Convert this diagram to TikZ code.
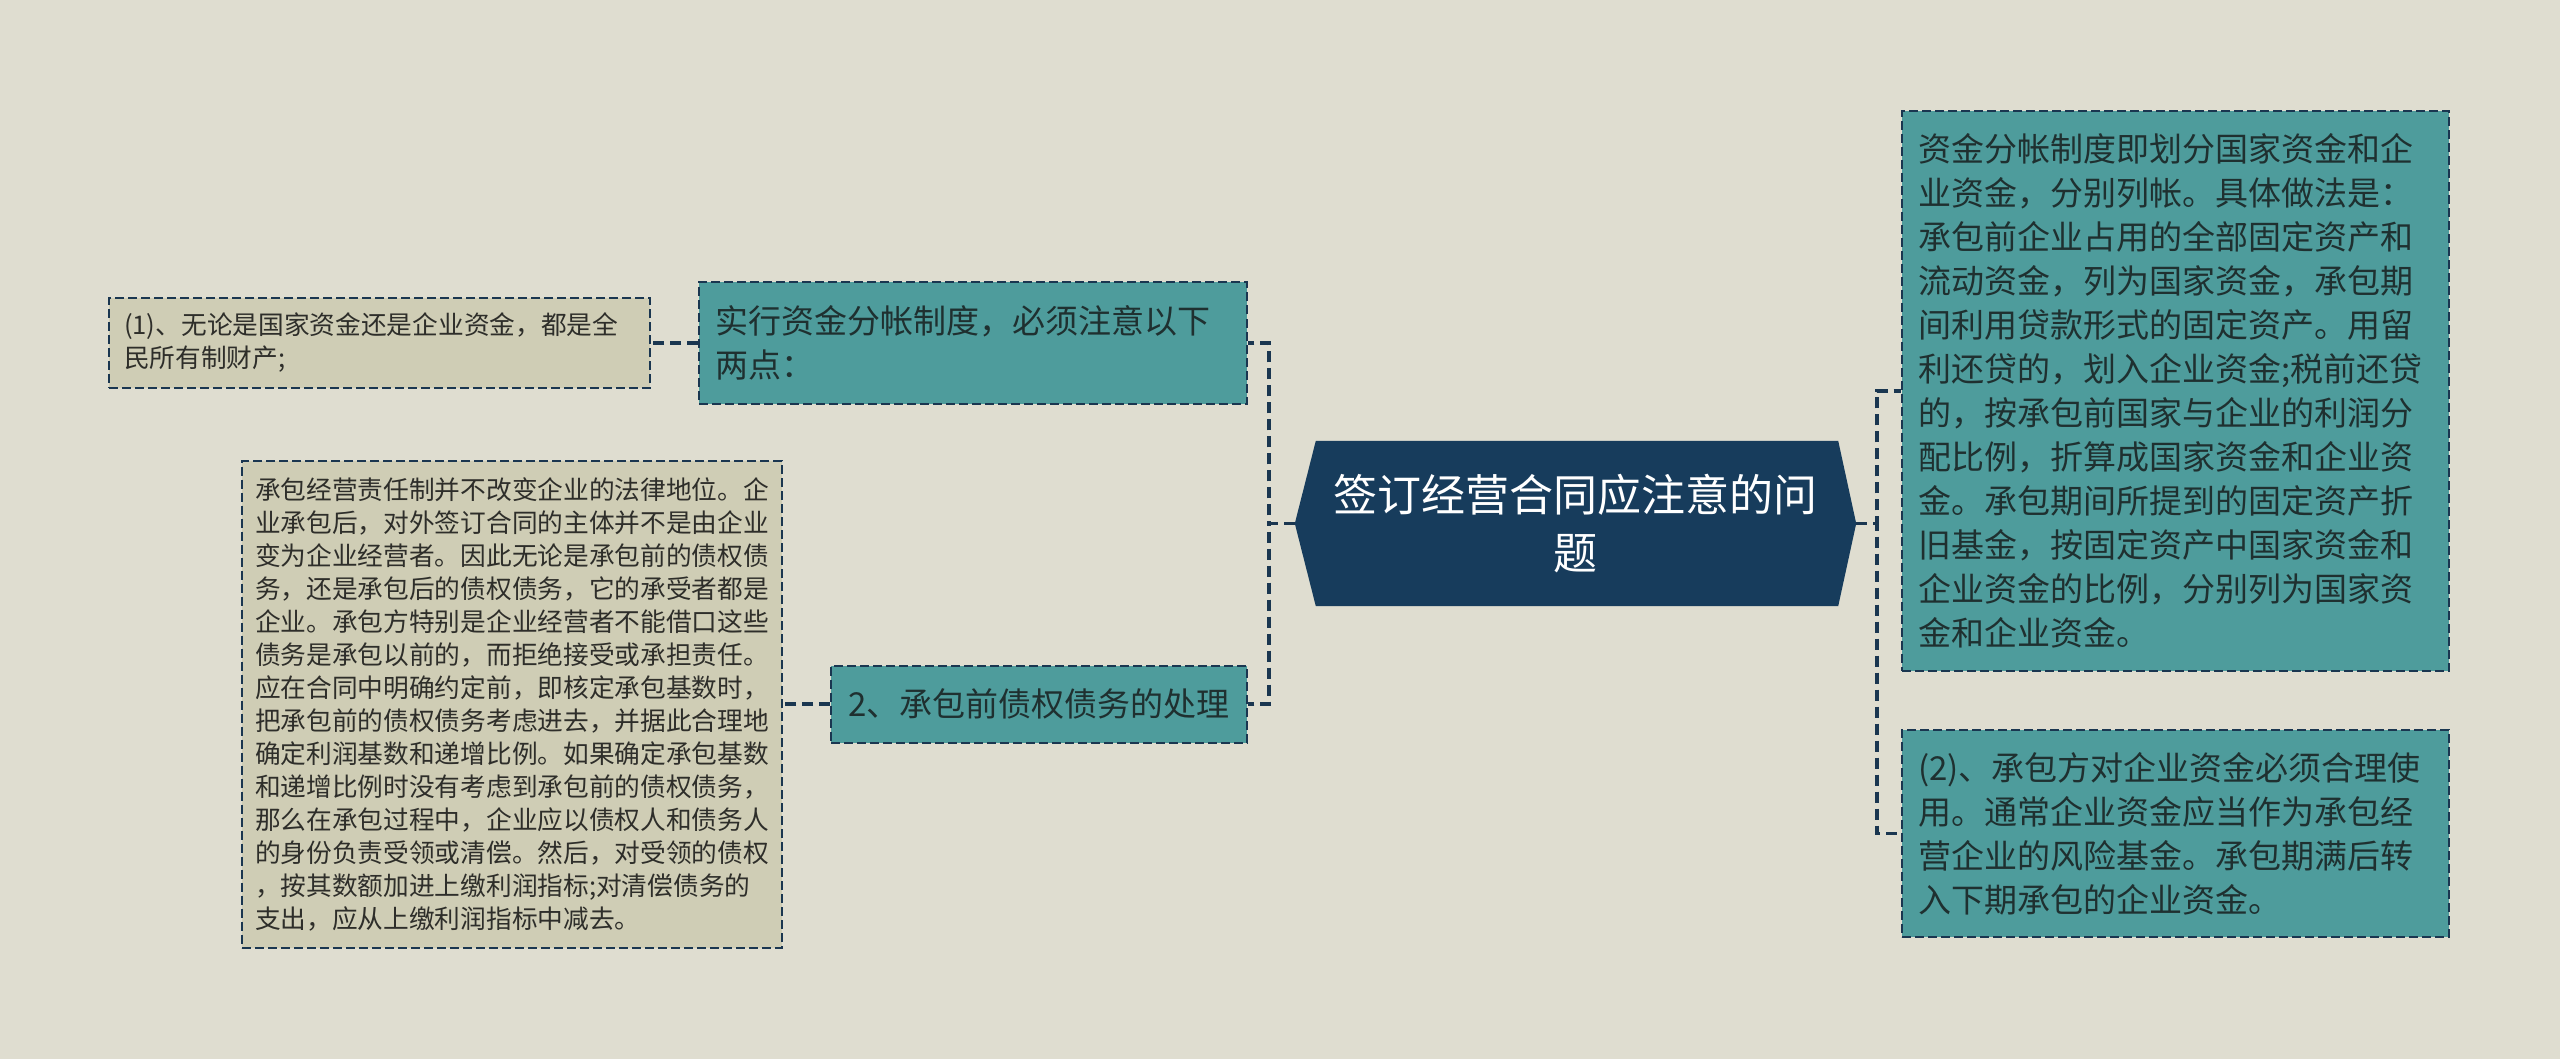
\documentclass[tikz,border=0pt]{standalone}
\usepackage{fontspec}
\setmainfont{Noto Sans CJK SC}
\usetikzlibrary{calc}
\definecolor{bg}{HTML}{DFDDD0}
\definecolor{beige}{HTML}{CFCDB5}
\definecolor{tealc}{HTML}{4E9C9C}
\definecolor{navy}{HTML}{173C5C}
\definecolor{edge}{HTML}{1A3650}
\definecolor{txtb}{HTML}{2E2E2A}
\definecolor{txtt}{HTML}{1F3030}
\begin{document}
\begin{tikzpicture}[x=1pt,y=-1pt,
  conn/.style={draw=edge, line width=3.5pt, dash pattern=on 11pt off 6pt},
  box/.style={draw=edge, line width=2pt, dash pattern=on 9pt off 4pt, rectangle, align=left, inner ysep=0pt},
  smallbox/.style={box, fill=beige, text=txtb, font=\fontsize{25.7}{33}\selectfont},
  bigbox/.style={box, fill=tealc, text=txtt, font=\fontsize{33}{44}\selectfont}
]
\fill[bg] (0,0) rectangle (2560,1059);
\useasboundingbox (0,0) rectangle (2560,1059);

% root
\node[minimum width=561pt, minimum height=165pt, inner sep=0pt] (root) at (1575.5,523.5) {};
\fill[navy] (root.west) -- ($(root.north west)+(21,0)$) -- ($(root.north east)+(-18,0)$) -- (root.east)
  -- ($(root.south east)+(-18,0)$) -- ($(root.south west)+(21,0)$) -- cycle;
\node[text=white, align=center, font=\fontsize{44}{58}\selectfont] (roottext) at (root.center) {签订经营合同应注意的问\\题};

% left branch
\node[bigbox, text width=516pt, inner xsep=16pt, minimum height=121pt] (n1) at (973,343)
  {实行资金分帐制度，必须注意以下\\两点：};
\node[bigbox, text width=384pt, inner xsep=16pt, minimum height=77pt, align=center] (n2) at (1039,704)
  {2、承包前债权债务的处理};
\node[smallbox, text width=511pt, inner xsep=15pt, minimum height=90pt] (c1) at (379.5,343)
  {(1)、无论是国家资金还是企业资金，都是全\\民所有制财产;};
\node[smallbox, text width=514pt, inner xsep=13pt, minimum height=487pt] (c2) at (512,704)
  {承包经营责任制并不改变企业的法律地位。企\\
   业承包后，对外签订合同的主体并不是由企业\\
   变为企业经营者。因此无论是承包前的债权债\\
   务，还是承包后的债权债务，它的承受者都是\\
   企业。承包方特别是企业经营者不能借口这些\\
   债务是承包以前的，而拒绝接受或承担责任。\\
   应在合同中明确约定前，即核定承包基数时，\\
   把承包前的债权债务考虑进去，并据此合理地\\
   确定利润基数和递增比例。如果确定承包基数\\
   和递增比例时没有考虑到承包前的债权债务，\\
   那么在承包过程中，企业应以债权人和债务人\\
   的身份负责受领或清偿。然后，对受领的债权\\
   ，按其数额加进上缴利润指标;对清偿债务的\\
   支出，应从上缴利润指标中减去。};

% right branch
\node[bigbox, text width=515pt, inner xsep=16pt, minimum height=560pt] (r1) at (2175.5,391)
  {资金分帐制度即划分国家资金和企\\
   业资金，分别列帐。具体做法是：\\
   承包前企业占用的全部固定资产和\\
   流动资金，列为国家资金，承包期\\
   间利用贷款形式的固定资产。用留\\
   利还贷的，划入企业资金;税前还贷\\
   的，按承包前国家与企业的利润分\\
   配比例，折算成国家资金和企业资\\
   金。承包期间所提到的固定资产折\\
   旧基金，按固定资产中国家资金和\\
   企业资金的比例，分别列为国家资\\
   金和企业资金。};
\node[bigbox, text width=515pt, inner xsep=16pt, minimum height=207pt] (r2) at (2175.5,833.5)
  {(2)、承包方对企业资金必须合理使\\
   用。通常企业资金应当作为承包经\\
   营企业的风险基金。承包期满后转\\
   入下期承包的企业资金。};

% connectors
\coordinate (lj) at (1269,523.5);
\coordinate (rj) at (1877,523.5);
\draw[conn] (root.west) -- (lj) |- (n1.east);
\draw[conn] (root.west) -- (lj) |- (n2.east);
\draw[conn] (root.east) -- (rj) |- (r1.west);
\draw[conn] (root.east) -- (rj) |- (r2.west);
\draw[conn] (n1.west) -- (c1.east);
\draw[conn] (n2.west) -- (c2.east);
\end{tikzpicture}
\end{document}
